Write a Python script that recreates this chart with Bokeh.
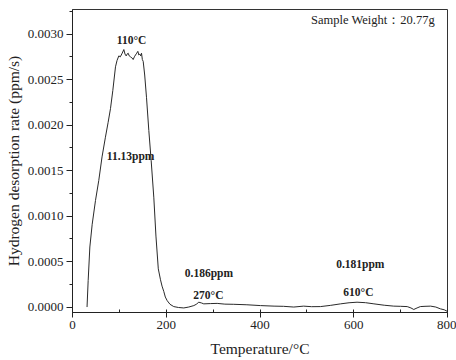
from bokeh.plotting import figure
from bokeh.models import Range1d, SingleIntervalTicker, NumeralTickFormatter, Label
from bokeh.embed import file_html
from bokeh.resources import INLINE

# Temperature (°C) and hydrogen desorption rate (ppm/s)
temperature = [31, 33.4, 37, 42, 49, 56, 63, 70, 76, 81, 86, 91.7, 95, 98.8, 102, 106,
               109.5, 112, 114.5, 116.5, 118.7, 121, 123.7, 126.5, 129.4, 132, 134.4,
               137, 139.4, 141.5, 143.6, 145.5, 147.2, 149, 150.8, 154, 157.9, 162.8,
               167.8, 173.5, 178, 183, 187.7, 191, 194.8, 198, 202, 208, 216, 226, 237.4,
               248, 258.8, 264, 269.4, 275, 280, 294, 308.6, 325, 344, 372, 401, 430, 450,
               472, 493, 510, 529, 550, 572, 590, 607, 625, 643, 665, 685.3, 700, 714,
               722, 728, 735, 742, 752, 764, 775, 785, 793, 799]
rate = [0.0, 0.00029, 0.00066, 0.00091, 0.00117, 0.00139, 0.00165, 0.00186, 0.00203,
        0.00218, 0.00238, 0.00264, 0.00271, 0.00276, 0.00275, 0.00279,
        0.00283, 0.00278, 0.00276, 0.00278, 0.00279, 0.00276, 0.00275, 0.00274, 0.00272,
        0.00275, 0.00277, 0.00279, 0.00281, 0.00277, 0.00278, 0.00276, 0.00279, 0.00272,
        0.00270, 0.00255, 0.00230, 0.00194, 0.00161, 0.00120, 0.00078, 0.00042, 0.00030,
        0.00023, 0.00017, 0.00011, 0.00007, 0.00003, 0.000005, -0.000005, -0.00001,
        0.0, 0.000016, 0.00003, 0.000053, 0.000045, 0.000035, 0.000038, 0.00004, 0.000032,
        0.00003, 0.000025, 0.000016, 0.00001, 0.000008, 0.0, 0.00001, 0.000004, 0.000005,
        0.000018, 0.000035, 0.000047, 0.000053, 0.000048, 0.000035, 0.00002, 0.00001,
        0.000008, 0.000005, -0.00001, -0.000027, -0.00001, 0.000005, 0.000008, 0.00001,
        0.0, -0.00002, -0.00003, -0.000046]

x_ticks_interval = 200
y_ticks_interval = 0.0005

annotations = [
    ("110°C", 126, 0.00293),
    ("11.13ppm", 124, 0.00166),
    ("0.186ppm", 291, 0.000379),
    ("270°C", 290, 0.000137),
    ("0.181ppm", 614, 0.000475),
    ("610°C", 610, 0.00017),
]
weight_text = "Sample Weight：20.77g"

SERIF = "Liberation Serif"

p = figure(width=456, height=360, output_backend="svg", toolbar_location=None,
           x_range=Range1d(0, 800), y_range=Range1d(-0.00006, 0.00327),
           min_border_left=72, min_border_right=9, min_border_top=9, min_border_bottom=48)
p.background_fill_color = "white"
p.border_fill_color = "white"
p.outline_line_color = "#333333"
p.outline_line_width = 1
p.xgrid.visible = False
p.ygrid.visible = False

p.line(temperature, rate, line_color="#2a2a2a", line_width=1)

p.xaxis.ticker = SingleIntervalTicker(interval=x_ticks_interval, num_minor_ticks=2)
p.yaxis.ticker = SingleIntervalTicker(interval=y_ticks_interval, num_minor_ticks=2)
p.yaxis.formatter = NumeralTickFormatter(format="0.0000")

for ax in (p.xaxis, p.yaxis):
    ax.axis_line_color = "#222222"
    ax.major_tick_line_color = "#222222"
    ax.minor_tick_line_color = "#222222"
    ax.major_label_text_font = SERIF
    ax.major_label_text_font_size = "13px"
    ax.major_label_text_color = "#222222"
    ax.axis_label_text_font = SERIF
    ax.axis_label_text_font_size = "15.5px"
    ax.axis_label_text_font_style = "normal"
    ax.axis_label_text_color = "#222222"

p.xaxis.axis_label = "Temperature/°C"
p.yaxis.axis_label = "Hydrogen desorption rate (ppm/s)"

p.xaxis.major_tick_out = 5
p.xaxis.major_tick_in = 0
p.xaxis.minor_tick_out = 0
p.xaxis.minor_tick_in = 3
p.xaxis.major_label_standoff = 3
p.xaxis.axis_label_standoff = 8

p.yaxis.major_tick_out = 6
p.yaxis.major_tick_in = 0
p.yaxis.minor_tick_out = 3
p.yaxis.minor_tick_in = 0
p.yaxis.major_label_standoff = 3
p.yaxis.axis_label_standoff = 3

for txt, tx, ty in annotations:
    p.add_layout(Label(x=tx, y=ty, text=txt, text_font=SERIF, text_font_size="11.5px",
                       text_font_style="bold", text_color="#222222",
                       text_align="center", text_baseline="middle"))

p.add_layout(Label(x=641, y=0.00315, text=weight_text, text_font=SERIF,
                   text_font_size="12.5px", text_color="#222222",
                   text_align="center", text_baseline="middle"))

open("out.html", "w").write(file_html(p, INLINE))
